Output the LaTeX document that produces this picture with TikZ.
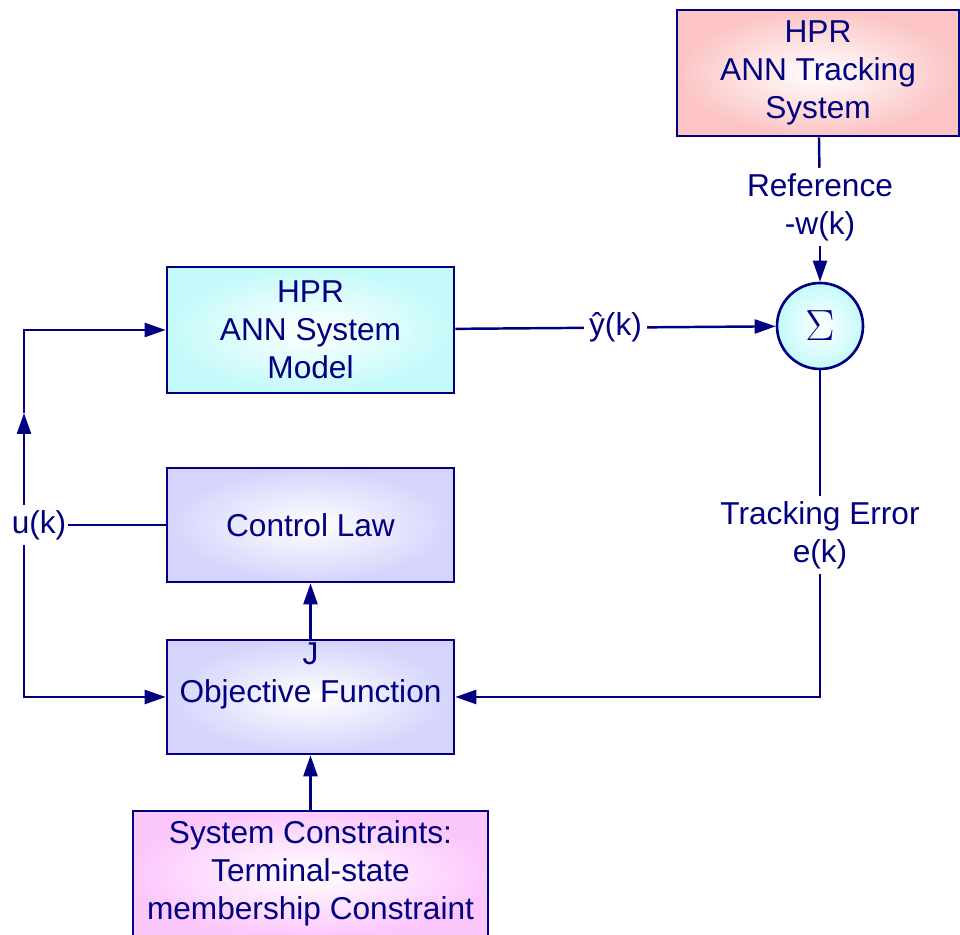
\documentclass[tikz,border=0pt]{standalone}
\usepackage{fontspec}
\setmainfont{Liberation Sans}
\usetikzlibrary{arrows.meta,shadings}

\definecolor{navy}{RGB}{0,0,128}
\definecolor{trackpink}{RGB}{252,196,196}
\definecolor{modelcyan}{RGB}{196,250,250}
\definecolor{lawblue}{RGB}{212,212,252}
\definecolor{conpink}{RGB}{252,200,252}
\definecolor{sumcyan}{RGB}{196,250,250}

\begin{document}
\begin{tikzpicture}[font=\fontsize{18}{21.5}\selectfont, text=navy,
    block/.style={draw=navy, line width=1.5pt, align=center, inner sep=0pt,
      shading=radial, inner color=white},
    wire/.style={draw=navy, line width=1.4pt},
    flow/.style={wire, -{Triangle[length=0.42cm,width=0.28cm]}},
    lbl/.style={align=center, inner sep=3pt}]
       \clip (0,0) rectangle (19.2,18.68);
       % blocks
       \node[block, outer color=trackpink, minimum width=5.64cm, minimum height=2.52cm]
         (track) at (16.36,17.22) {HPR\\ANN Tracking\\System};
       \node[block, outer color=modelcyan, minimum width=5.74cm, minimum height=2.52cm]
         (model) at (6.21,12.08) {HPR\\ANN System\\Model};
       \node[block, outer color=lawblue, minimum width=5.74cm, minimum height=2.28cm]
         (law) at (6.21,8.18) {Control Law};
       \node[block, outer color=lawblue, minimum width=5.74cm, minimum height=2.28cm]
         (obj) at (6.21,4.74) {J\\Objective Function\\\strut};
       \node[block, outer color=conpink, minimum width=7.1cm, minimum height=2.5cm]
         (con) at (6.21,1.21) {System Constraints:\\Terminal-state\\membership Constraint};
       \node[block, circle, minimum size=1.72cm, outer color=sumcyan]
         (sum) at (16.4,12.16) {\fontsize{24}{24}\selectfont$\Sigma$};

       % signal labels
       \node[lbl] (ref) at (16.4,14.54) {Reference\\-w(k)};
       \node[lbl] (err) at (16.4,7.98) {Tracking Error\\e(k)};
       \node[lbl, inner xsep=1pt] (uk) at (0.78,8.18) {u(k)};
       \coordinate (lmid) at (0.48,10.42);
       \coordinate (lbot) at (0.48,4.74);

       % connectors
       \draw[wire] (track) -- (ref);
       \draw[flow] (ref) -- (sum);
       \draw[flow] (model) -- node[lbl, fill=white] (yhat) {ŷ(k)} (sum);
       \draw[wire] (sum) -- (err);
       \draw[flow] (err) |- (obj);
       \draw[wire] (law) -- (uk);
       \draw[flow] (uk.north -| lbot) -- (lmid);
       \draw[flow] (lmid) |- (model);
       \draw[flow] (uk.south -| lbot) |- (obj);
       \draw[flow] (obj) -- (law);
       \draw[flow] (con) -- (obj);
\end{tikzpicture}
\end{document}
